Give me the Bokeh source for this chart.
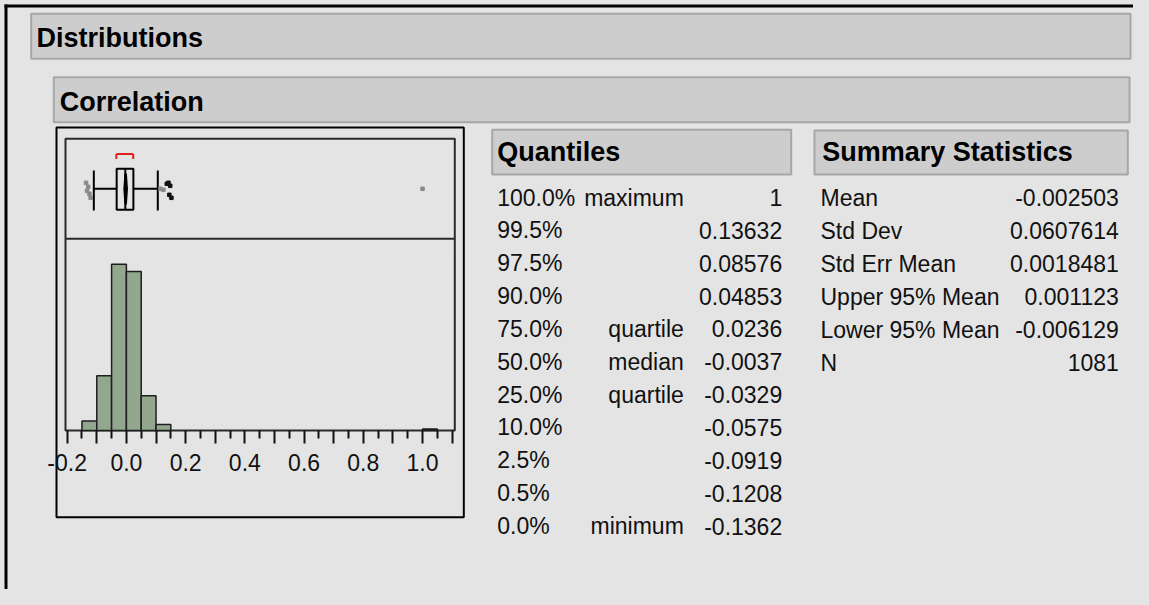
from bokeh.plotting import figure
from bokeh.models import Range1d, LinearAxis, FixedTicker, PrintfTickFormatter, GlobalInlineStyleSheet
from bokeh.core.properties import value
from bokeh.embed import file_html
from bokeh.resources import INLINE

# ---------------- data ----------------
bin_left = [-0.15, -0.10, -0.05, 0.00, 0.05, 0.10, 1.00]
bin_right = [-0.10, -0.05, 0.00, 0.05, 0.10, 0.15, 1.05]
bin_count = [24, 137, 416, 398, 87, 15, 4]

major_ticks = [-0.2, -0.1, 0.0, 0.1, 0.2, 0.3, 0.4, 0.5, 0.6, 0.7, 0.8, 0.9, 1.0, 1.1]
minor_ticks = [-0.15, -0.05, 0.05, 0.15, 0.25, 0.35, 0.45, 0.55, 0.65, 0.75, 0.85, 0.95, 1.05]
unlabelled_ticks = [-0.1, 0.1, 0.3, 0.5, 0.7, 0.9, 1.1]

q25, q50, q75 = -0.0329, -0.0037, 0.0236
whisker_lo, whisker_hi = -0.110, 0.106
mean_val, lower95, upper95 = -0.002503, -0.006129, 0.001123
short_half = [-0.034, 0.023]
outlier_x = [-0.1362, -0.1330, -0.1290, -0.1250, -0.1208,
             0.1150, 0.1250, 0.1363, 0.1420, 0.1480, 0.1450, 0.1520, 1.0]
outlier_dy = [-6, 2, -2, 5, 9, 0, 1, -5, -6, -3, 6, 9, 0]
outlier_color = ["#8a8a8a"] * 7 + ["#111111"] * 5 + ["#8a8a8a"]

quant_pct = ["100.0%", "99.5%", "97.5%", "90.0%", "75.0%", "50.0%", "25.0%",
             "10.0%", "2.5%", "0.5%", "0.0%"]
quant_name = ["maximum", "", "", "", "quartile", "median", "quartile", "", "", "", "minimum"]
quant_val = ["1", "0.13632", "0.08576", "0.04853", "0.0236", "-0.0037", "-0.0329",
             "-0.0575", "-0.0919", "-0.1208", "-0.1362"]

sum_label = ["Mean", "Std Dev", "Std Err Mean", "Upper 95% Mean", "Lower 95% Mean", "N"]
sum_val = ["-0.002503", "0.0607614", "0.0018481", "0.001123", "-0.006129", "1081"]

# ---------------- layout (reference pixel coordinates) ----------------
W, H = 1133, 589
BG = "#E4E4E4"
HEAD_FILL = "#CDCDCD"
HEAD_LINE = "#A6A6A6"
BODY_FONT = "Liberation Sans"
BODY_SIZE = "23px"
HEAD_SIZE = "27px"
BODY_DY = -8.0        # baseline correction for text glyphs
HEAD_DY = -9.5

AX_Y = 430.0          # histogram baseline (pixel)
PX0 = 125.9           # pixel x of value 0.0
PX_PER_UNIT = 296.15
CNT_PER_PX = 2.503

p = figure(width=W, height=H,
           x_range=Range1d(0, W), y_range=Range1d(H, 0),
           x_axis_type=None, y_axis_type=None,
           output_backend="svg", toolbar_location=None,
           min_border=0, outline_line_color=None,
           background_fill_color=BG, border_fill_color=BG)
p.grid.visible = False
p.stylesheets = [GlobalInlineStyleSheet(css="html, body { background-color: %s; }" % BG)]

p.extra_x_ranges = {"hx": Range1d((0 - PX0) / PX_PER_UNIT, (W - PX0) / PX_PER_UNIT)}
p.extra_y_ranges = {"hy": Range1d((AX_Y - H) * CNT_PER_PX, (AX_Y - 0) * CNT_PER_PX)}

# outer black border (top and left)
p.segment(x0=[5.5, 4], y0=[4, 5.5], x1=[5.5, W], y1=[H, 5.5],
          line_color="black", line_width=3)

# section header bars
p.quad(left=[30.7, 53.3, 491.7, 814.0], right=[1130.0, 1129.0, 790.7, 1127.3],
       top=[13.3, 76.7, 129.3, 130.0], bottom=[58.3, 121.7, 174.0, 174.0],
       fill_color=HEAD_FILL, line_color=HEAD_LINE, line_width=2)

p.text(x=[36, 59.3, 496.7, 821.7], y=[v + HEAD_DY for v in [46.5, 111, 161, 161]],
       text=["Distributions", "Correlation", "Quantiles", "Summary Statistics"],
       text_font=value(BODY_FONT), text_font_size=value(HEAD_SIZE),
       text_font_style="bold", text_color="black",
       text_baseline="alphabetic", text_align="left")

# plot frames
p.quad(left=[56], right=[463.3], top=[127], bottom=[516.7],
       fill_color=None, line_color="black", line_width=2)
p.quad(left=[65], right=[454.3], top=[138.3], bottom=[AX_Y],
       fill_color=None, line_color="#2a2a2a", line_width=2)
p.segment(x0=[65], y0=[238.3], x1=[454.3], y1=[238.3], line_color="#2a2a2a", line_width=2)

# histogram
p.quad(left=bin_left, right=bin_right, bottom=0, top=bin_count,
       x_range_name="hx", y_range_name="hy",
       fill_color="#92A78E", line_color="#1e1e1e", line_width=1.5)

# axis at the histogram baseline
ax = LinearAxis(x_range_name="hx", fixed_location=AX_Y,
                ticker=FixedTicker(ticks=major_ticks, minor_ticks=minor_ticks),
                formatter=PrintfTickFormatter(format="%.1f"),
                axis_line_color=None,
                major_tick_in=0, major_tick_out=13, minor_tick_in=0, minor_tick_out=8,
                major_tick_line_color="#111111", major_tick_line_width=2,
                minor_tick_line_color="#111111", minor_tick_line_width=2,
                major_label_standoff=10,
                major_label_text_font=BODY_FONT, major_label_text_font_size=BODY_SIZE,
                major_label_text_color="#111111",
                major_label_overrides={t: "" for t in unlabelled_ticks})
p.add_layout(ax, "below")

# box plot (values through the histogram x scale)
BY = 188.3
p.segment(x0=[whisker_lo, q75], y0=[BY, BY], x1=[q25, whisker_hi], y1=[BY, BY],
          x_range_name="hx", line_color="black", line_width=2)
p.segment(x0=[whisker_lo, whisker_hi], y0=[170, 170], x1=[whisker_lo, whisker_hi], y1=[210, 210],
          x_range_name="hx", line_color="black", line_width=2)
p.quad(left=[q25], right=[q75], top=[168.3], bottom=[209.3], x_range_name="hx",
       fill_color=None, line_color="black", line_width=2)
p.segment(x0=[q50], y0=[168.3], x1=[q50], y1=[209.3], x_range_name="hx",
          line_color="black", line_width=2)
p.patch(x=[lower95, mean_val, upper95, mean_val], y=[BY, 173, BY, 204], x_range_name="hx",
        fill_color="black", line_color="black", line_width=2.5)
# shortest half bracket
p.segment(x0=[short_half[0], short_half[0], short_half[1]],
          y0=[153.5, 153.5, 153.5],
          x1=[short_half[1], short_half[0], short_half[1]],
          y1=[153.5, 158.5, 158.5],
          x_range_name="hx", line_color="#E0201B", line_width=2)
# outliers
p.scatter(x=outlier_x, y=[BY + d for d in outlier_dy], x_range_name="hx",
          marker="square", size=3.5, fill_color=outlier_color, line_color=outlier_color)

# quantiles table
row_y = [205 + 32.85 * i + BODY_DY for i in range(len(quant_pct))]
txt = dict(text_font=value(BODY_FONT), text_font_size=value(BODY_SIZE),
           text_color="#111111", text_baseline="alphabetic")
p.text(x=[496.7] * len(quant_pct), y=row_y, text=quant_pct, text_align="left", **txt)
p.text(x=[683.3] * len(quant_name), y=row_y, text=quant_name, text_align="right", **txt)
p.text(x=[781.7] * len(quant_val), y=row_y, text=quant_val, text_align="right", **txt)

# summary statistics table
srow_y = [205 + 33 * i + BODY_DY for i in range(len(sum_label))]
p.text(x=[820] * len(sum_label), y=srow_y, text=sum_label, text_align="left", **txt)
p.text(x=[1118.3] * len(sum_val), y=srow_y, text=sum_val, text_align="right", **txt)

open("out.html", "w").write(file_html(p, INLINE))
